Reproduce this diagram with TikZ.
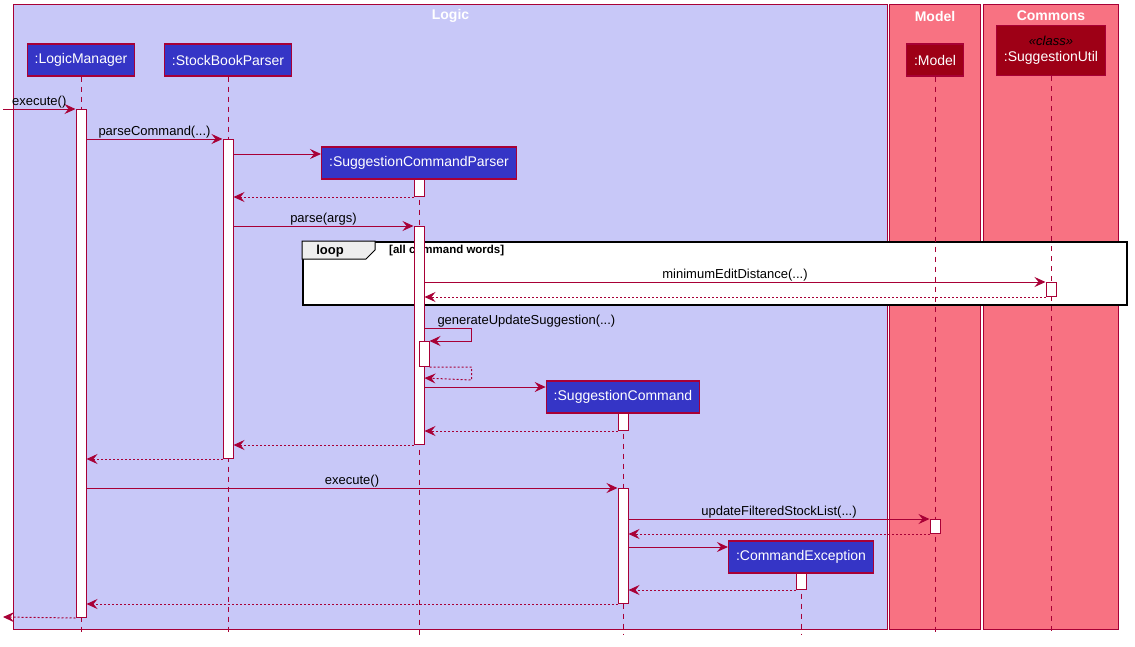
\documentclass[tikz,border=0pt]{standalone}
\usepackage{fontspec}
\setmainfont{Liberation Sans}
\usetikzlibrary{arrows.meta}
\definecolor{umlred}{HTML}{A80036}
\definecolor{logicbg}{HTML}{C8C8F8}
\definecolor{pinkbg}{HTML}{F87282}
\definecolor{partblue}{HTML}{3535C6}
\definecolor{partred}{HTML}{9E0016}
\definecolor{tabgray}{HTML}{EEEEEE}
\begin{document}
\begin{tikzpicture}[x=1pt, y=-1pt,
    pkg/.style={rectangle, draw=umlred, line width=1pt, anchor=north west, minimum height=625pt, inner sep=0},
    pkgtitle/.style={text=white, font=\bfseries\fontsize{14}{16}\selectfont, inner sep=0},
    part/.style={rectangle, draw=umlred, line width=1.2pt, fill=partblue, text=white, minimum height=32pt, inner xsep=7.5pt, font=\fontsize{14}{16}\selectfont, align=center},
    life/.style={umlred, line width=0.8pt, dash pattern=on 5pt off 5pt},
    act/.style={rectangle, draw=umlred, line width=1pt, fill=white, minimum width=10pt, inner sep=0, anchor=north},
    msg/.style={umlred, line width=1pt, -{Stealth[length=11pt, width=10pt, inset=4pt]}},
    ret/.style={msg, dash pattern=on 2pt off 2pt},
    lbl/.style={above, text=black, inner sep=1pt, outer sep=0, font=\fontsize{13}{15}\selectfont}
  ]
    \useasboundingbox (0,0) rectangle (1135,646);
    \node[pkg, fill=logicbg, minimum width=874pt] (logic) at (13,4) {};
    \node[pkg, fill=pinkbg, minimum width=91pt] (model) at (889,4) {};
    \node[pkg, fill=pinkbg, minimum width=135pt] (commons) at (983,4) {};
    \node[pkgtitle] (logicT) at (logic.north |- 0,16) {Logic};
    \node[pkgtitle] (modelT) at (model.north |- 0,16) {Model};
    \node[pkgtitle] (commonsT) at (commons.north |- 0,16) {Commons};

    \node[part] (lm) at (81,60) {:LogicManager};
    \node[part] (sbp) at (228,60) {:StockBookParser};
    \node[part] (scp) at (419,163) {:SuggestionCommandParser};
    \node[part] (sc) at (623,397) {:SuggestionCommand};
    \node[part] (ce) at (801,557) {:CommandException};
    \node[part, fill=partred] (mdl) at (935,60) {:Model};
    \node[part, fill=partred, minimum height=50pt, anchor=south] (su) at (1051,76) {{\color{black}\itshape\fontsize{13}{15}\selectfont «class»}\\:SuggestionUtil};

    \node[rectangle, draw=black, line width=2pt, fill=white, anchor=north west, minimum width=824pt, minimum height=63pt, inner sep=0] (loop) at (302,241) {};
    \draw[fill=tabgray, line width=1pt] (loop.north west) -- ++(73,0) -- ++(0,9) -- ++(-9,9) -- ++(-64,0) -- cycle;
    \node[font=\bfseries\fontsize{13}{15}\selectfont] (loopL) at (330,251) {loop};
    \node[font=\bfseries\fontsize{11.5}{13}\selectfont, anchor=west, inner sep=0] (guard) at (389,251) {[all command words]};

    \coordinate (bottom) at (0,635);
    \foreach \p in {lm, sbp, scp, sc, ce, mdl, su}
      \draw[life] (\p.south) -- (\p.south |- bottom);

    \node[act, minimum height=508pt] (lmA) at (81,109) {};
    \node[act, minimum height=319pt] (sbpA) at (228,139) {};
    \node[act, minimum height=17pt] (scpA) at (419,179) {};
    \node[act, minimum height=218pt] (scpB) at (419,226) {};
    \node[act, minimum height=25pt] (scpC) at (424,341) {};
    \node[act, minimum height=14pt] (suA) at (1051,282) {};
    \node[act, minimum height=17pt] (scA) at (623,413) {};
    \node[act, minimum height=115pt] (scB) at (623,488) {};
    \node[act, minimum height=14pt] (mdlA) at (935,519) {};
    \node[act, minimum height=16pt] (ceA) at (801,573) {};

    \coordinate (in) at (3,109);
    \coordinate (out) at (3,617);
    \draw[msg] (in) -- node[lbl] {execute()} (lmA.north west);
    \draw[msg] (lmA.east |- 0,139) -- node[lbl] {parseCommand(...)} (sbpA.north west);
    \draw[msg] (sbpA.east |- 0,154) -- (scp.west |- 0,154);
    \draw[ret] (scpA.south west) -- (sbpA.east |- scpA.south);
    \draw[msg] (sbpA.east |- 0,226) -- node[lbl] {parse(args)} (scpB.north west);
    \draw[msg] (scpB.east |- 0,282) -- node[lbl] {minimumEditDistance(...)} (suA.north west);
    \draw[ret] (suA.south west) -- (scpB.east |- suA.south);
    \draw[msg] (scpB.east |- 0,328) node[lbl, anchor=south west, xshift=12pt] {generateUpdateSuggestion(...)} -- ++(47,0) -- ++(0,13) -- (scpC.north east);
    \draw[ret] (scpC.south east) -- ++(42,0) -- ++(0,13) -- (scpB.east |- 0,378);
    \draw[msg] (scpB.east |- 0,387) -- (sc.west |- 0,387);
    \draw[ret] (scA.south west) -- (scpB.east |- scA.south);
    \draw[ret] (scpB.south west) -- (sbpA.east |- scpB.south);
    \draw[ret] (sbpA.south west) -- (lmA.east |- sbpA.south);
    \draw[msg] (lmA.east |- 0,488) -- node[lbl] {execute()} (scB.north west);
    \draw[msg] (scB.east |- 0,519) -- node[lbl] {updateFilteredStockList(...)} (mdlA.north west);
    \draw[ret] (mdlA.south west) -- (scB.east |- mdlA.south);
    \draw[msg] (scB.east |- 0,547) -- (ce.west |- 0,547);
    \draw[ret] (ceA.south west) -- (scB.east |- ceA.south);
    \draw[ret] (scB.south west) -- (lmA.east |- scB.south);
    \draw[ret] (lmA.south west) -- (out);
  \end{tikzpicture}
\end{document}
